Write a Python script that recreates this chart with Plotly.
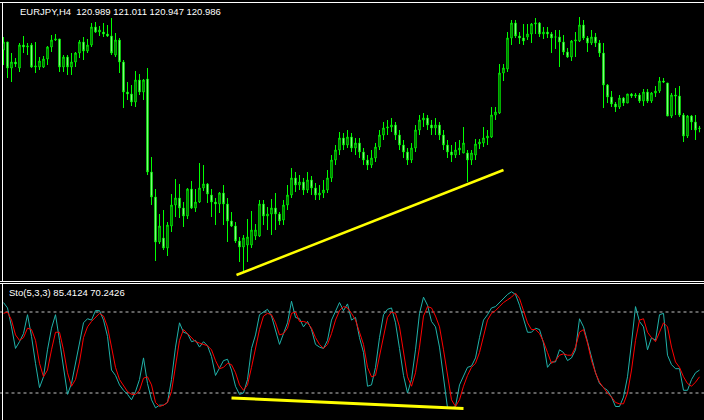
import plotly.graph_objects as go

# ---------------- data ----------------
symbol_title = "EURJPY,H4  120.989 121.011 120.947 120.986"
sto_title = "Sto(5,3,3) 85.4124 70.2426"

opens = [121.77,121.85,121.59,121.65,121.59,121.82,121.80,121.82,121.60,121.60,
         121.60,121.68,121.80,121.87,121.88,121.60,121.70,121.60,121.65,121.74,
         121.85,121.76,121.82,122.00,121.95,121.95,121.93,121.91,121.72,121.87,
         121.65,121.35,121.33,121.25,121.47,121.35,121.48,120.55,120.30,119.85,
         119.89,119.79,120.01,120.22,120.29,120.19,120.11,120.38,120.19,120.25,
         120.39,120.43,120.32,120.25,120.23,120.34,120.23,120.06,120.01,119.86,
         119.80,119.82,119.82,119.91,119.91,120.23,120.11,120.13,120.19,120.13,
         120.07,120.22,120.32,120.49,120.42,120.45,120.37,120.47,120.39,120.32,
         120.34,120.37,120.49,120.67,120.77,120.89,120.82,120.90,120.79,120.84,
         120.75,120.67,120.62,120.69,120.80,120.92,120.99,121.00,121.02,120.92,
         120.82,120.75,120.67,120.79,120.97,121.07,121.09,121.02,120.99,121.02,
         120.92,120.82,120.75,120.72,120.77,120.74,120.74,120.67,120.72,120.83,
         120.84,120.89,120.90,121.12,121.14,121.54,121.58,121.89,122.04,121.91,
         121.89,121.90,121.93,122.03,122.04,121.93,121.95,121.93,121.90,121.90,
         121.85,121.75,121.70,121.86,121.86,122.02,121.89,121.84,121.90,121.84,
         121.74,121.42,121.30,121.23,121.20,121.29,121.24,121.33,121.31,121.32,
         121.26,121.35,121.26,121.34,121.36,121.46,121.44,121.11,121.32,121.31,
         121.12,120.91,121.11,121.05,120.989]
highs = [121.90,121.85,121.74,121.69,121.84,121.91,121.84,121.84,121.85,121.70,
         121.71,121.81,121.92,121.93,121.88,121.72,121.72,121.74,121.75,121.87,
         121.90,121.88,122.04,122.05,122.01,122.04,122.02,122.09,121.94,121.89,
         121.67,121.45,121.42,121.56,121.53,121.48,121.59,120.70,120.38,120.13,
         120.17,120.05,120.33,120.48,120.43,120.25,120.39,120.46,120.38,120.64,
         120.62,120.44,120.38,120.29,120.35,120.42,120.29,120.15,120.05,119.90,
         119.92,120.08,120.16,120.03,120.27,120.27,120.20,120.28,120.34,120.15,
         120.27,120.42,120.59,120.55,120.52,120.49,120.55,120.51,120.44,120.42,
         120.47,120.57,120.72,120.82,120.95,120.94,120.97,120.94,120.89,120.89,
         120.79,120.72,120.77,120.84,120.97,121.05,121.07,121.09,121.05,120.97,
         120.87,120.79,120.84,121.02,121.12,121.14,121.12,121.07,121.09,121.05,
         120.97,120.87,120.82,120.85,120.87,121.00,120.77,120.77,120.88,120.88,
         121.00,120.97,121.20,121.20,121.63,121.63,121.95,122.07,122.07,121.95,
         122.03,122.03,122.04,122.09,122.05,122.00,122.00,121.95,121.97,121.97,
         121.92,121.79,121.87,121.95,122.10,122.07,121.91,121.97,121.94,121.87,
         121.84,121.43,121.36,121.25,121.32,121.30,121.33,121.34,121.34,121.34,
         121.38,121.38,121.35,121.41,121.50,121.49,121.44,121.34,121.39,121.41,
         121.14,121.12,121.12,121.12,121.011]
lows = [121.62,121.49,121.45,121.60,121.55,121.74,121.72,121.59,121.54,121.57,
        121.59,121.62,121.75,121.86,121.55,121.55,121.52,121.52,121.60,121.69,
        121.67,121.74,121.80,121.94,121.91,121.90,121.90,121.72,121.70,121.54,
        121.19,121.27,121.21,121.20,121.32,121.27,120.52,120.22,119.66,119.83,
        119.77,119.71,119.95,120.10,120.09,120.00,120.08,120.18,120.15,120.24,
        120.36,120.24,120.10,120.02,120.14,120.02,119.85,120.00,119.84,119.65,
        119.54,119.65,119.79,119.87,119.90,120.02,119.97,119.92,119.97,120.02,
        120.02,120.17,120.29,120.35,120.37,120.32,120.34,120.32,120.27,120.27,
        120.29,120.34,120.45,120.62,120.72,120.77,120.79,120.75,120.72,120.69,
        120.62,120.57,120.59,120.65,120.77,120.87,120.92,120.95,120.87,120.77,
        120.69,120.62,120.64,120.75,120.92,121.00,120.97,120.92,120.92,120.87,
        120.77,120.69,120.65,120.69,120.72,120.74,120.45,120.62,120.67,120.78,
        120.80,120.82,120.89,121.07,121.13,121.46,121.55,121.82,121.89,121.83,
        121.82,121.87,121.84,121.93,121.90,121.88,121.89,121.74,121.78,121.60,
        121.72,121.69,121.66,121.70,121.85,121.87,121.75,121.82,121.80,121.70,
        121.19,121.24,121.20,121.15,121.18,121.21,121.24,121.29,121.29,121.24,
        121.21,121.24,121.24,121.30,121.34,121.44,121.11,121.09,121.12,121.10,
        120.85,120.89,120.97,120.87,120.947]
closes = [121.85,121.59,121.65,121.63,121.82,121.80,121.81,121.60,121.61,121.66,
          121.68,121.80,121.87,121.88,121.60,121.70,121.60,121.65,121.74,121.85,
          121.76,121.82,122.00,121.95,121.97,121.93,121.91,121.74,121.87,121.65,
          121.35,121.33,121.25,121.47,121.35,121.47,120.55,120.30,119.85,120.01,
          119.79,120.02,120.22,120.29,120.19,120.11,120.38,120.19,120.25,120.39,
          120.43,120.33,120.25,120.23,120.34,120.23,120.06,120.01,119.86,119.80,
          119.89,119.90,119.97,119.97,120.23,120.11,120.13,120.19,120.13,120.06,
          120.22,120.32,120.49,120.42,120.45,120.37,120.47,120.39,120.32,120.34,
          120.37,120.49,120.67,120.77,120.89,120.82,120.90,120.79,120.84,120.75,
          120.67,120.62,120.69,120.80,120.92,120.99,121.00,121.02,120.92,120.82,
          120.75,120.67,120.79,120.97,121.07,121.09,121.02,120.99,121.02,120.92,
          120.82,120.75,120.72,120.77,120.79,120.84,120.67,120.74,120.83,120.85,
          120.89,120.91,121.12,121.15,121.54,121.59,121.89,122.04,121.91,121.89,
          121.86,121.93,122.03,122.04,121.93,121.95,121.93,121.89,121.90,121.85,
          121.75,121.70,121.86,121.87,122.02,121.89,121.84,121.90,121.84,121.74,
          121.42,121.30,121.23,121.20,121.29,121.24,121.33,121.31,121.32,121.26,
          121.35,121.26,121.34,121.36,121.46,121.45,121.11,121.32,121.31,121.12,
          120.91,121.11,121.05,120.97,120.986]

sto_main = [87,83,69,53,58,64,78,62,42,24,32,52,68,78,59,39,19,27,42,58,
            72,75,74,81,81,74,62,37,33,26,22,19,15,21,30,46,27,15,9,11,
            11,13,30,54,72,65,64,58,59,54,58,55,47,33,39,44,45,37,25,19,
            20,30,53,63,78,80,82,77,67,56,64,72,88,76,75,69,73,67,56,54,
            53,59,74,80,87,81,86,74,76,61,50,25,26,39,61,78,82,83,72,53,
            33,20,30,52,79,91,85,73,69,54,32,9,9,10,26,33,39,40,46,61,
            74,78,83,84,87,90,93,95,93,85,74,65,65,68,67,57,39,43,43,52,
            50,44,46,52,75,69,58,47,35,27,24,22,17,10,10,17,32,57,84,73,
            69,52,61,59,78,79,48,41,38,38,22,22,30,35,37]
sto_signal = [79,80,74,63,59,61,68,67,59,42,32,37,52,65,65,52,35,25,30,43,
              61,69,73,76,79,77,69,54,39,30,25,21,19,19,22,31,32,26,13,10,
              11,13,21,39,59,67,64,61,58,57,56,55,52,44,38,39,42,41,35,26,
              22,26,39,54,67,77,79,78,72,63,64,68,79,80,73,73,72,68,61,56,
              53,56,64,74,81,84,83,79,74,65,56,39,32,33,47,63,76,80,79,69,
              50,32,25,35,54,77,84,83,77,69,52,32,15,10,15,25,33,39,42,50,
              63,74,79,81,84,87,89,91,94,90,81,72,67,67,64,58,50,42,44,48,
              49,48,48,54,65,67,57,44,35,28,24,20,17,13,12,12,20,37,59,74,
              75,65,61,58,65,72,69,54,43,39,32,27,25,28,32]
sto_levels = [80, 20]

# trend lines drawn by the analyst (bar index, value)
price_trend_bar = [58.25, 125.0]
price_trend_val = [119.52, 120.57]
sto_trend_bar = [57.0, 115.0]
sto_trend_val = [16.3, 8.5]

bars = list(range(len(closes)))

# ---------------- figure ----------------
W, H = 704, 420
LIME = "#00ff00"

def py(px):
    return (H - px) / H

fig = go.Figure()

fig.add_trace(go.Candlestick(
    x=bars, open=opens, high=highs, low=lows, close=closes,
    increasing=dict(line=dict(color=LIME, width=1), fillcolor="#000000"),
    decreasing=dict(line=dict(color=LIME, width=1), fillcolor="#ffffff"),
    whiskerwidth=0, xaxis="x", yaxis="y", showlegend=False, hoverinfo="skip"))

fig.add_trace(go.Scatter(x=price_trend_bar, y=price_trend_val, mode="lines",
                         line=dict(color="#ffff00", width=2.5),
                         xaxis="x", yaxis="y", showlegend=False, hoverinfo="skip"))

for lv in sto_levels:
    fig.add_trace(go.Scatter(x=[-1, len(closes) + 1], y=[lv, lv], mode="lines",
                             line=dict(color="#c0c0c0", width=1, dash="3px,3px"),
                             xaxis="x2", yaxis="y2", showlegend=False, hoverinfo="skip"))

fig.add_trace(go.Scatter(x=bars, y=sto_main, mode="lines",
                         line=dict(color="#20b2aa", width=1),
                         xaxis="x2", yaxis="y2", showlegend=False, hoverinfo="skip"))
fig.add_trace(go.Scatter(x=bars, y=sto_signal, mode="lines",
                         line=dict(color="#ff0000", width=1),
                         xaxis="x2", yaxis="y2", showlegend=False, hoverinfo="skip"))
fig.add_trace(go.Scatter(x=sto_trend_bar, y=sto_trend_val, mode="lines",
                         line=dict(color="#ffff00", width=3),
                         xaxis="x2", yaxis="y2", showlegend=False, hoverinfo="skip"))

# bar i centred on pixel column 3 + 4*i
xr = [-3.5 / 4, (W - 3.5) / 4]
main_top_px, main_bot_px = 2, 281
sub_top_px = 284
price_at = lambda px: 122.27 - 0.01 * px

ax_common = dict(showgrid=False, zeroline=False, showticklabels=False, showline=False,
                 ticks="", fixedrange=True)

fig.update_layout(
    width=W, height=H, margin=dict(l=0, r=0, t=0, b=0),
    paper_bgcolor="#000000", plot_bgcolor="#000000",
    boxgap=0.5,
    xaxis=dict(domain=[0, 1], range=xr, anchor="y", rangeslider=dict(visible=False), **ax_common),
    yaxis=dict(domain=[py(main_bot_px), py(main_top_px)],
               range=[price_at(main_bot_px), price_at(main_top_px)], anchor="x", **ax_common),
    xaxis2=dict(domain=[0, 1], range=xr, anchor="y2", **ax_common),
    yaxis2=dict(domain=[0, py(sub_top_px)], range=[0, (H - sub_top_px) / 1.35], anchor="x2", **ax_common),
    showlegend=False,
)

# frame lines (white)
line_style = dict(color="#ffffff", width=1)
shapes = [
    dict(type="line", xref="paper", yref="paper", x0=0, x1=1, y0=py(2.5), y1=py(2.5), line=line_style),
    dict(type="line", xref="paper", yref="paper", x0=0, x1=1, y0=py(281.5), y1=py(281.5), line=line_style),
    dict(type="line", xref="paper", yref="paper", x0=0, x1=1, y0=py(283.5), y1=py(283.5), line=line_style),
    dict(type="line", xref="paper", yref="paper", x0=2.5 / W, x1=2.5 / W, y0=py(2.5), y1=py(281.5), line=line_style),
    dict(type="line", xref="paper", yref="paper", x0=2.5 / W, x1=2.5 / W, y0=py(283.5), y1=0, line=line_style),
]
fig.update_layout(shapes=shapes)

font = dict(family="Liberation Sans, Arial, sans-serif", size=9.5, color="#ffffff")
fig.add_annotation(x=18 / W, y=py(11), xref="paper", yref="paper", text=symbol_title,
                   showarrow=False, xanchor="left", yanchor="middle", font=font)
fig.add_annotation(x=7 / W, y=py(292.5), xref="paper", yref="paper", text=sto_title,
                   showarrow=False, xanchor="left", yanchor="middle", font=font)

fig.write_html("out.html", config={"displayModeBar": False},
               post_script="document.body.style.margin='0';document.body.style.overflow='hidden';document.body.style.background='#000';")
